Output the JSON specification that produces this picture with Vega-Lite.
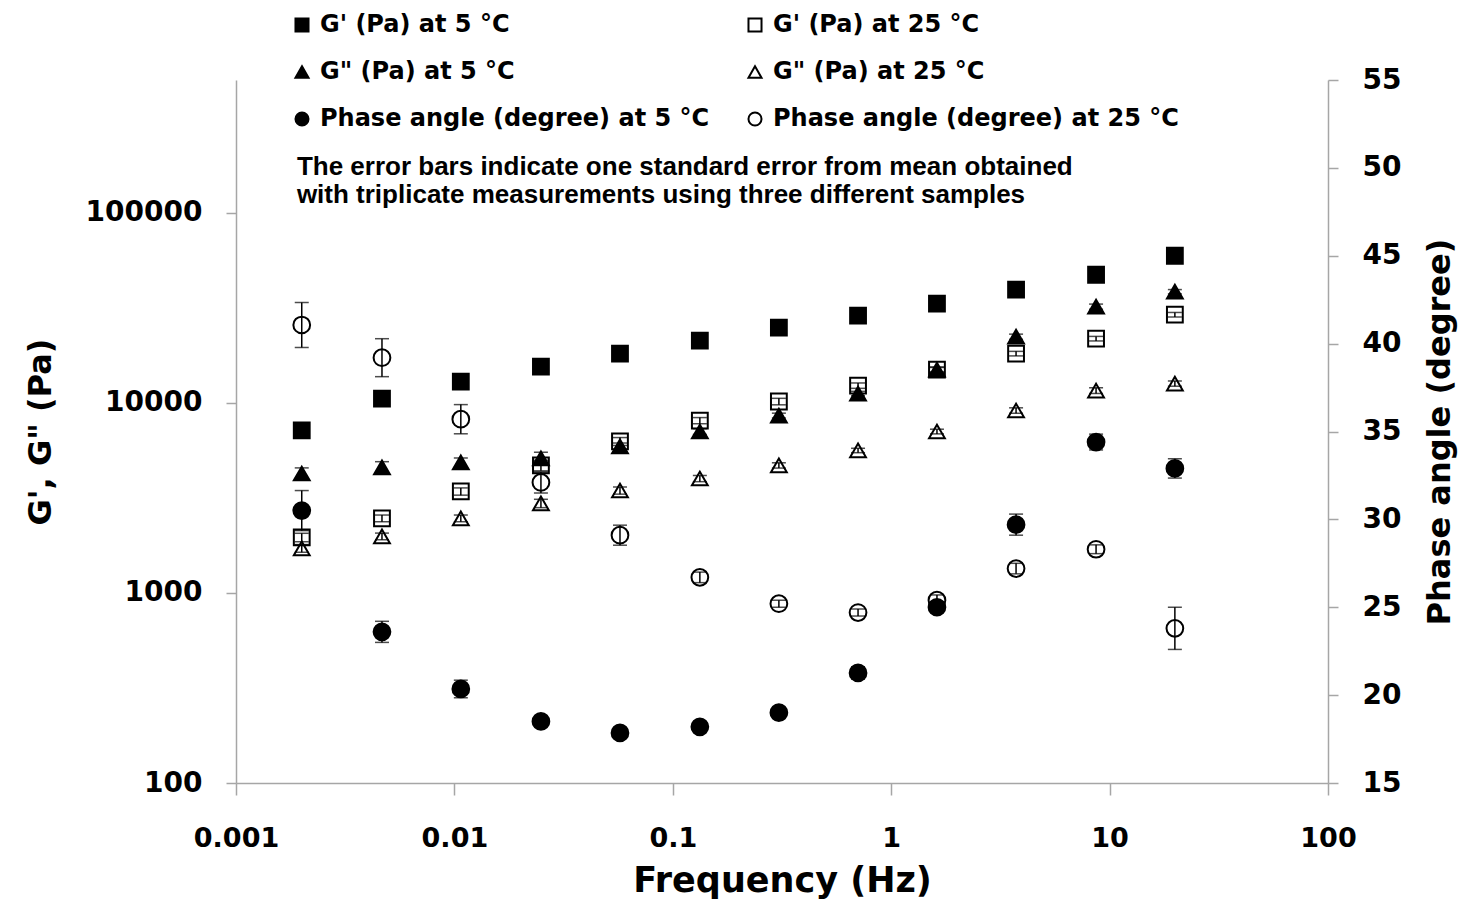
{
  "$schema": "https://vega.github.io/schema/vega-lite/v6.json",
  "width": 1092,
  "height": 703,
  "autosize": {"type": "none"},
  "padding": {"left": 236, "top": 80, "right": 142, "bottom": 120},
  "background": "white",
  "config": {"view": {"stroke": null}},
  "data": {"values": [
    {"f":0.002,"s":"G' (Pa) at 5 °C","k":"G","v":7160,"lo":7010,"hi":7310},
    {"f":0.00466,"s":"G' (Pa) at 5 °C","k":"G","v":10540,"lo":10340,"hi":10740},
    {"f":0.0107,"s":"G' (Pa) at 5 °C","k":"G","v":12950,"lo":12750,"hi":13150},
    {"f":0.0249,"s":"G' (Pa) at 5 °C","k":"G","v":15530,"lo":15230,"hi":15830},
    {"f":0.0573,"s":"G' (Pa) at 5 °C","k":"G","v":18160,"lo":17860,"hi":18460},
    {"f":0.133,"s":"G' (Pa) at 5 °C","k":"G","v":21270,"lo":20970,"hi":21570},
    {"f":0.306,"s":"G' (Pa) at 5 °C","k":"G","v":24900,"lo":24500,"hi":25300},
    {"f":0.705,"s":"G' (Pa) at 5 °C","k":"G","v":28780,"lo":28380,"hi":29180},
    {"f":1.62,"s":"G' (Pa) at 5 °C","k":"G","v":33270,"lo":32770,"hi":33770},
    {"f":3.73,"s":"G' (Pa) at 5 °C","k":"G","v":39430,"lo":38830,"hi":40030},
    {"f":8.67,"s":"G' (Pa) at 5 °C","k":"G","v":47240,"lo":46440,"hi":48040},
    {"f":19.9,"s":"G' (Pa) at 5 °C","k":"G","v":59450,"lo":58450,"hi":60450},

    {"f":0.002,"s":"G' (Pa) at 25 °C","k":"G","v":1960,"lo":1860,"hi":2060},
    {"f":0.00466,"s":"G' (Pa) at 25 °C","k":"G","v":2470,"lo":2370,"hi":2570},
    {"f":0.0107,"s":"G' (Pa) at 25 °C","k":"G","v":3420,"lo":3270,"hi":3570},
    {"f":0.0249,"s":"G' (Pa) at 25 °C","k":"G","v":4690,"lo":4390,"hi":4990},
    {"f":0.0573,"s":"G' (Pa) at 25 °C","k":"G","v":6270,"lo":5970,"hi":6570},
    {"f":0.133,"s":"G' (Pa) at 25 °C","k":"G","v":8070,"lo":7770,"hi":8370},
    {"f":0.306,"s":"G' (Pa) at 25 °C","k":"G","v":10170,"lo":9770,"hi":10570},
    {"f":0.705,"s":"G' (Pa) at 25 °C","k":"G","v":12330,"lo":11930,"hi":12730},
    {"f":1.62,"s":"G' (Pa) at 25 °C","k":"G","v":14960,"lo":14460,"hi":15460},
    {"f":3.73,"s":"G' (Pa) at 25 °C","k":"G","v":18170,"lo":17670,"hi":18670},
    {"f":8.67,"s":"G' (Pa) at 25 °C","k":"G","v":21780,"lo":21180,"hi":22380},
    {"f":19.9,"s":"G' (Pa) at 25 °C","k":"G","v":29110,"lo":28310,"hi":29910},

    {"f":0.002,"s":"G\" (Pa) at 5 °C","k":"G","v":4250,"lo":3950,"hi":4550},
    {"f":0.00466,"s":"G\" (Pa) at 5 °C","k":"G","v":4575,"lo":4245,"hi":4905},
    {"f":0.0107,"s":"G\" (Pa) at 5 °C","k":"G","v":4860,"lo":4590,"hi":5130},
    {"f":0.0249,"s":"G\" (Pa) at 5 °C","k":"G","v":5100,"lo":4700,"hi":5500},
    {"f":0.0573,"s":"G\" (Pa) at 5 °C","k":"G","v":5900,"lo":5650,"hi":6150},
    {"f":0.133,"s":"G\" (Pa) at 5 °C","k":"G","v":7070,"lo":6820,"hi":7320},
    {"f":0.306,"s":"G\" (Pa) at 5 °C","k":"G","v":8580,"lo":8330,"hi":8830},
    {"f":0.705,"s":"G\" (Pa) at 5 °C","k":"G","v":11200,"lo":10900,"hi":11500},
    {"f":1.62,"s":"G\" (Pa) at 5 °C","k":"G","v":14960,"lo":14560,"hi":15360},
    {"f":3.73,"s":"G\" (Pa) at 5 °C","k":"G","v":22300,"lo":21600,"hi":23000},
    {"f":8.67,"s":"G\" (Pa) at 5 °C","k":"G","v":32100,"lo":31100,"hi":33100},
    {"f":19.9,"s":"G\" (Pa) at 5 °C","k":"G","v":38470,"lo":37470,"hi":39470},

    {"f":0.002,"s":"G\" (Pa) at 25 °C","k":"G","v":1717,"lo":1637,"hi":1797},
    {"f":0.00466,"s":"G\" (Pa) at 25 °C","k":"G","v":1985,"lo":1905,"hi":2065},
    {"f":0.0107,"s":"G\" (Pa) at 25 °C","k":"G","v":2470,"lo":2370,"hi":2570},
    {"f":0.0249,"s":"G\" (Pa) at 25 °C","k":"G","v":2960,"lo":2810,"hi":3110},
    {"f":0.0573,"s":"G\" (Pa) at 25 °C","k":"G","v":3460,"lo":3310,"hi":3610},
    {"f":0.133,"s":"G\" (Pa) at 25 °C","k":"G","v":4000,"lo":3850,"hi":4150},
    {"f":0.306,"s":"G\" (Pa) at 25 °C","k":"G","v":4690,"lo":4540,"hi":4840},
    {"f":0.705,"s":"G\" (Pa) at 25 °C","k":"G","v":5620,"lo":5470,"hi":5770},
    {"f":1.62,"s":"G\" (Pa) at 25 °C","k":"G","v":7070,"lo":6870,"hi":7270},
    {"f":3.73,"s":"G\" (Pa) at 25 °C","k":"G","v":9120,"lo":8820,"hi":9420},
    {"f":8.67,"s":"G\" (Pa) at 25 °C","k":"G","v":11610,"lo":11210,"hi":12010},
    {"f":19.9,"s":"G\" (Pa) at 25 °C","k":"G","v":12640,"lo":12240,"hi":13040},

    {"f":0.002,"s":"Phase angle (degree) at 5 °C","k":"P","v":30.5,"lo":29.36,"hi":31.64},
    {"f":0.00466,"s":"Phase angle (degree) at 5 °C","k":"P","v":23.6,"lo":23.0,"hi":24.2},
    {"f":0.0107,"s":"Phase angle (degree) at 5 °C","k":"P","v":20.35,"lo":19.85,"hi":20.85},
    {"f":0.0249,"s":"Phase angle (degree) at 5 °C","k":"P","v":18.5,"lo":18.25,"hi":18.75},
    {"f":0.0573,"s":"Phase angle (degree) at 5 °C","k":"P","v":17.85,"lo":17.65,"hi":18.05},
    {"f":0.133,"s":"Phase angle (degree) at 5 °C","k":"P","v":18.2,"lo":18.0,"hi":18.4},
    {"f":0.306,"s":"Phase angle (degree) at 5 °C","k":"P","v":19.0,"lo":18.8,"hi":19.2},
    {"f":0.705,"s":"Phase angle (degree) at 5 °C","k":"P","v":21.26,"lo":20.91,"hi":21.61},
    {"f":1.62,"s":"Phase angle (degree) at 5 °C","k":"P","v":25.0,"lo":24.7,"hi":25.3},
    {"f":3.73,"s":"Phase angle (degree) at 5 °C","k":"P","v":29.7,"lo":29.1,"hi":30.3},
    {"f":8.67,"s":"Phase angle (degree) at 5 °C","k":"P","v":34.4,"lo":33.95,"hi":34.85},
    {"f":19.9,"s":"Phase angle (degree) at 5 °C","k":"P","v":32.9,"lo":32.35,"hi":33.45},

    {"f":0.002,"s":"Phase angle (degree) at 25 °C","k":"P","v":41.06,"lo":39.78,"hi":42.34},
    {"f":0.00466,"s":"Phase angle (degree) at 25 °C","k":"P","v":39.2,"lo":38.12,"hi":40.28},
    {"f":0.0107,"s":"Phase angle (degree) at 25 °C","k":"P","v":35.7,"lo":34.87,"hi":36.53},
    {"f":0.0249,"s":"Phase angle (degree) at 25 °C","k":"P","v":32.1,"lo":31.5,"hi":32.7},
    {"f":0.0573,"s":"Phase angle (degree) at 25 °C","k":"P","v":29.1,"lo":28.53,"hi":29.67},
    {"f":0.133,"s":"Phase angle (degree) at 25 °C","k":"P","v":26.7,"lo":26.4,"hi":27.0},
    {"f":0.306,"s":"Phase angle (degree) at 25 °C","k":"P","v":25.2,"lo":25.0,"hi":25.4},
    {"f":0.705,"s":"Phase angle (degree) at 25 °C","k":"P","v":24.7,"lo":24.5,"hi":24.9},
    {"f":1.62,"s":"Phase angle (degree) at 25 °C","k":"P","v":25.4,"lo":25.1,"hi":25.7},
    {"f":3.73,"s":"Phase angle (degree) at 25 °C","k":"P","v":27.2,"lo":26.9,"hi":27.5},
    {"f":8.67,"s":"Phase angle (degree) at 25 °C","k":"P","v":28.3,"lo":28.05,"hi":28.55},
    {"f":19.9,"s":"Phase angle (degree) at 25 °C","k":"P","v":23.8,"lo":22.6,"hi":25.0}
  ]},
  "encoding": {
    "x": {
      "field": "f", "type": "quantitative",
      "scale": {"type": "log", "domain": [0.001, 100], "nice": false},
      "axis": {
        "values": [0.001, 0.01, 0.1, 1, 10, 100], "format": "~g",
        "title": "Frequency (Hz)", "grid": false,
        "tickSize": 12, "tickWidth": 1.5, "tickColor": "#a6a6a6",
        "domainColor": "#a6a6a6", "domainWidth": 1.5,
        "labelFont": "DejaVu Sans", "labelFontWeight": "bold", "labelFontSize": 27, "labelColor": "black",
        "labelPadding": 30, "labelFlush": false, "labelOverlap": false,
        "titleFont": "DejaVu Sans", "titleFontWeight": "bold", "titleFontSize": 35, "titleColor": "black", "titlePadding": 12
      }
    },
    "shape": {
      "field": "s", "type": "nominal",
      "scale": {
        "domain": ["G' (Pa) at 5 °C", "G' (Pa) at 25 °C", "G\" (Pa) at 5 °C", "G\" (Pa) at 25 °C", "Phase angle (degree) at 5 °C", "Phase angle (degree) at 25 °C"],
        "range": ["square", "square", "triangle-up", "triangle-up", "circle", "circle"]
      },
      "legend": {
        "title": null, "orient": "none", "legendX": 54, "legendY": -67, "columns": 2, "direction": "horizontal",
        "columnPadding": 33, "rowPadding": 23, "labelOffset": 6, "labelLimit": 800,
        "labelFont": "DejaVu Sans", "labelFontWeight": "bold", "labelFontSize": 24, "labelColor": "black",
        "symbolSize": 170, "symbolStrokeWidth": 2
      }
    },
    "fill": {
      "field": "s", "type": "nominal",
      "scale": {
        "domain": ["G' (Pa) at 5 °C", "G' (Pa) at 25 °C", "G\" (Pa) at 5 °C", "G\" (Pa) at 25 °C", "Phase angle (degree) at 5 °C", "Phase angle (degree) at 25 °C"],
        "range": ["black", "transparent", "black", "transparent", "black", "transparent"]
      },
      "legend": {
        "title": null, "orient": "none", "legendX": 54, "legendY": -67, "columns": 2, "direction": "horizontal",
        "columnPadding": 33, "rowPadding": 23, "labelOffset": 6, "labelLimit": 800,
        "labelFont": "DejaVu Sans", "labelFontWeight": "bold", "labelFontSize": 24, "labelColor": "black",
        "symbolSize": 170, "symbolStrokeWidth": 2
      }
    },
    "stroke": {
      "field": "s", "type": "nominal",
      "scale": {
        "domain": ["G' (Pa) at 5 °C", "G' (Pa) at 25 °C", "G\" (Pa) at 5 °C", "G\" (Pa) at 25 °C", "Phase angle (degree) at 5 °C", "Phase angle (degree) at 25 °C"],
        "range": ["black", "black", "black", "black", "black", "black"]
      },
      "legend": {
        "title": null, "orient": "none", "legendX": 54, "legendY": -67, "columns": 2, "direction": "horizontal",
        "columnPadding": 33, "rowPadding": 23, "labelOffset": 6, "labelLimit": 800,
        "labelFont": "DejaVu Sans", "labelFontWeight": "bold", "labelFontSize": 24, "labelColor": "black",
        "symbolSize": 170, "symbolStrokeWidth": 2
      }
    }
  },
  "layer": [
    {
      "transform": [{"filter": "datum.k == 'G'"}],
      "layer": [
        {
          "mark": {"type": "point", "size": 250, "strokeWidth": 2, "fillOpacity": 1, "opacity": 1},
          "encoding": {
            "y": {
              "field": "v", "type": "quantitative", "title": "G', G\" (Pa)",
              "scale": {"type": "log", "domain": [100, 500000], "nice": false},
              "axis": {
                "orient": "left", "values": [100, 1000, 10000, 100000], "format": "d",
                "title": "G', G\" (Pa)", "grid": false,
                "tickSize": 10, "tickWidth": 1.5, "tickColor": "#a6a6a6",
                "domainColor": "#a6a6a6", "domainWidth": 1.5,
                "labelFont": "DejaVu Sans", "labelFontWeight": "bold", "labelFontSize": 28, "labelColor": "black",
                "labelPadding": 24,
                "titleFont": "DejaVu Sans", "titleFontWeight": "bold", "titleFontSize": 32, "titleColor": "black", "titlePadding": 28
              }
            }
          }
        },
        {
          "mark": {"type": "errorbar", "color": "black", "thickness": 1.5, "ticks": {"size": 14, "color": "black", "thickness": 1.5}},
          "encoding": {
            "y": {"field": "lo", "type": "quantitative", "title": "G', G\" (Pa)"},
            "y2": {"field": "hi"},
            "shape": null, "fill": null, "stroke": null
          }
        },
        {
          "data": {"values": [{"f": 0.0019, "v": 205000, "note": "The error bars indicate one standard error from mean obtained\nwith triplicate  measurements using three different samples"}]},
          "mark": {"type": "text", "align": "left", "baseline": "top", "lineBreak": "\n", "lineHeight": 28, "font": "Liberation Sans", "fontWeight": "bold", "fontSize": 26, "color": "black"},
          "encoding": {
            "y": {"field": "v", "type": "quantitative", "title": "G', G\" (Pa)"},
            "text": {"field": "note"},
            "shape": null, "fill": null, "stroke": null
          }
        }
      ]
    },
    {
      "transform": [{"filter": "datum.k == 'P'"}],
      "layer": [
        {
          "mark": {"type": "point", "size": 280, "strokeWidth": 2, "fillOpacity": 1, "opacity": 1},
          "encoding": {
            "y": {
              "field": "v", "type": "quantitative", "title": "Phase angle (degree)",
              "scale": {"domain": [15, 55], "nice": false, "zero": false},
              "axis": {
                "orient": "right", "values": [15, 20, 25, 30, 35, 40, 45, 50, 55],
                "title": "Phase angle (degree)", "grid": false,
                "tickSize": 10, "tickWidth": 1.5, "tickColor": "#a6a6a6",
                "domainColor": "#a6a6a6", "domainWidth": 1.5,
                "labelFont": "DejaVu Sans", "labelFontWeight": "bold", "labelFontSize": 28, "labelColor": "black",
                "labelPadding": 24,
                "titleFont": "DejaVu Sans", "titleFontWeight": "bold", "titleFontSize": 32, "titleColor": "black",
                "titleAngle": 270, "titleBaseline": "top", "titlePadding": 24
              }
            }
          }
        },
        {
          "mark": {"type": "errorbar", "color": "black", "thickness": 1.5, "ticks": {"size": 14, "color": "black", "thickness": 1.5}},
          "encoding": {
            "y": {"field": "lo", "type": "quantitative", "title": "Phase angle (degree)"},
            "y2": {"field": "hi"},
            "shape": null, "fill": null, "stroke": null
          }
        }
      ]
    }
  ],
  "resolve": {"scale": {"y": "independent"}}
}
